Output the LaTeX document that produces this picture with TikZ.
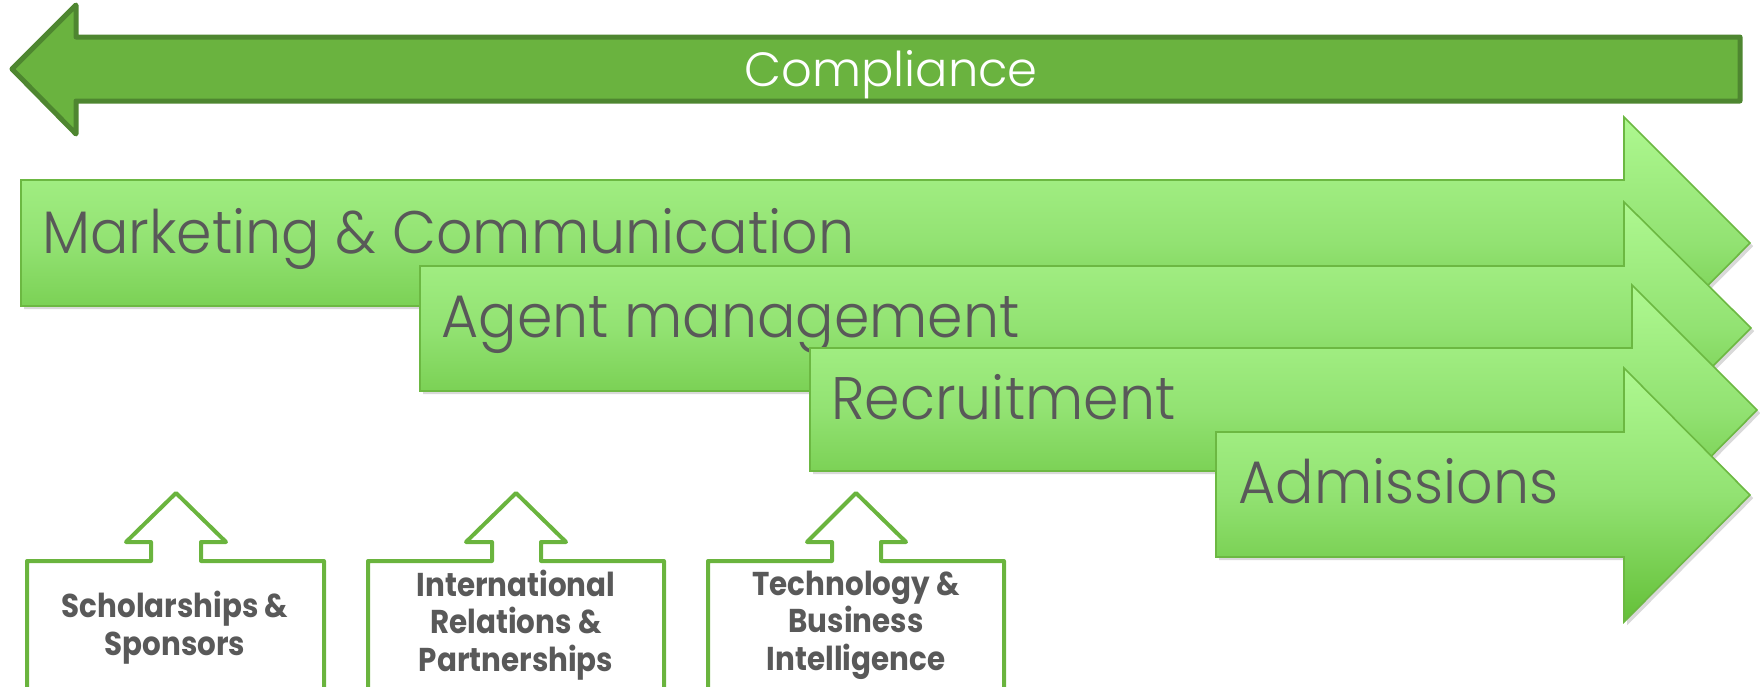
\documentclass[tikz,border=0pt]{standalone}
\usepackage{fontspec}
\setmainfont{Poppins}
\newfontfamily\armfont[FakeStretch=0.95]{Poppins Light}
\newfontfamily\compfont{Poppins Light}
\newfontfamily\boxfont[FakeStretch=0.89]{Poppins}
\usetikzlibrary{shadows}
\definecolor{darkG}{RGB}{78,134,48}
\definecolor{compG}{RGB}{106,179,63}
\definecolor{armTop}{RGB}{174,248,144}
\definecolor{armMid}{RGB}{146,226,114}
\definecolor{armBot}{RGB}{100,192,56}
\definecolor{armLine}{RGB}{108,184,66}
\definecolor{txtG}{RGB}{89,89,89}
\definecolor{boxG}{RGB}{106,180,62}
\tikzset{
  bigarrow/.style={draw=armLine, line width=0.8pt, line join=miter,
    top color=armTop, bottom color=armBot, middle color=armMid,
    drop shadow={shadow xshift=1.6pt, shadow yshift=-1.6pt, opacity=0.3}},
  armtext/.style={anchor=base west, inner sep=0pt, text=txtG,
    font=\armfont\fontsize{30}{34}\selectfont},
  upbox/.style={draw=boxG, line width=2pt, line join=round, line cap=round},
  boxtext/.style={align=center, anchor=base, inner sep=0pt, text=txtG,
    font=\boxfont\fontsize{16.5}{18.7}\selectfont\bfseries},
}
\begin{document}
\begin{tikzpicture}[x=0.5pt,y=-0.5pt]
\useasboundingbox (0,0) rectangle (1760,686);
% Compliance arrow
\path[draw=darkG, fill=compG, line width=2.5pt, line join=round]
  (12,69) -- (76,5) -- (76,37) -- (1740,37) -- (1740,101) -- (76,101) -- (76,134) -- cycle;
\node[anchor=base, inner sep=0pt, text=white, font=\compfont\fontsize{24}{27}\selectfont] (comp) at (891,86) {Compliance};
% Marketing
\path[bigarrow] (21,180) -- (1624,180) -- (1624,117) -- (1750,243) -- (1624,370) -- (1624,306) -- (21,306) -- cycle;
\node[armtext] (mkt) at (42,253) {Marketing \& Communication};
% Agent
\path[bigarrow] (420,266) -- (1624,266) -- (1624,202) -- (1751,328) -- (1624,455) -- (1624,391) -- (420,391) -- cycle;
\node[armtext] (agt) at (441,337) {Agent management};
% Recruitment
\path[bigarrow] (810,348) -- (1632,348) -- (1632,285) -- (1757,410) -- (1632,536) -- (1632,471) -- (810,471) -- cycle;
\node[armtext] (rec) at (831,419) {Recruitment};
% Admissions
\path[bigarrow] (1216,432) -- (1624,432) -- (1624,368) -- (1750,495) -- (1624,622) -- (1624,557) -- (1216,557) -- cycle;
\node[armtext] (adm) at (1238,503) {Admissions};
% Bottom boxes with up arrows
\draw[upbox] (27,690) -- (27,561) -- (151,561) -- (151,542) -- (126,542) -- (176,493) -- (226,542) -- (201,542) -- (201,561) -- (324,561) -- (324,690);
\node[boxtext] (sch) at (175,655) {Scholarships \&\\Sponsors};
\draw[upbox] (368,690) -- (368,561) -- (492,561) -- (492,542) -- (466,542) -- (516,493) -- (566,542) -- (541,542) -- (541,561) -- (664,561) -- (664,690);
\node[boxtext] (irp) at (516,671) {International\\Relations \&\\Partnerships};
\draw[upbox] (708,690) -- (708,561) -- (832,561) -- (832,542) -- (807,542) -- (856,493) -- (906,542) -- (881,542) -- (881,561) -- (1004,561) -- (1004,690);
\node[boxtext] (tbi) at (856,670) {Technology \&\\Business\\Intelligence};
\end{tikzpicture}
\end{document}
